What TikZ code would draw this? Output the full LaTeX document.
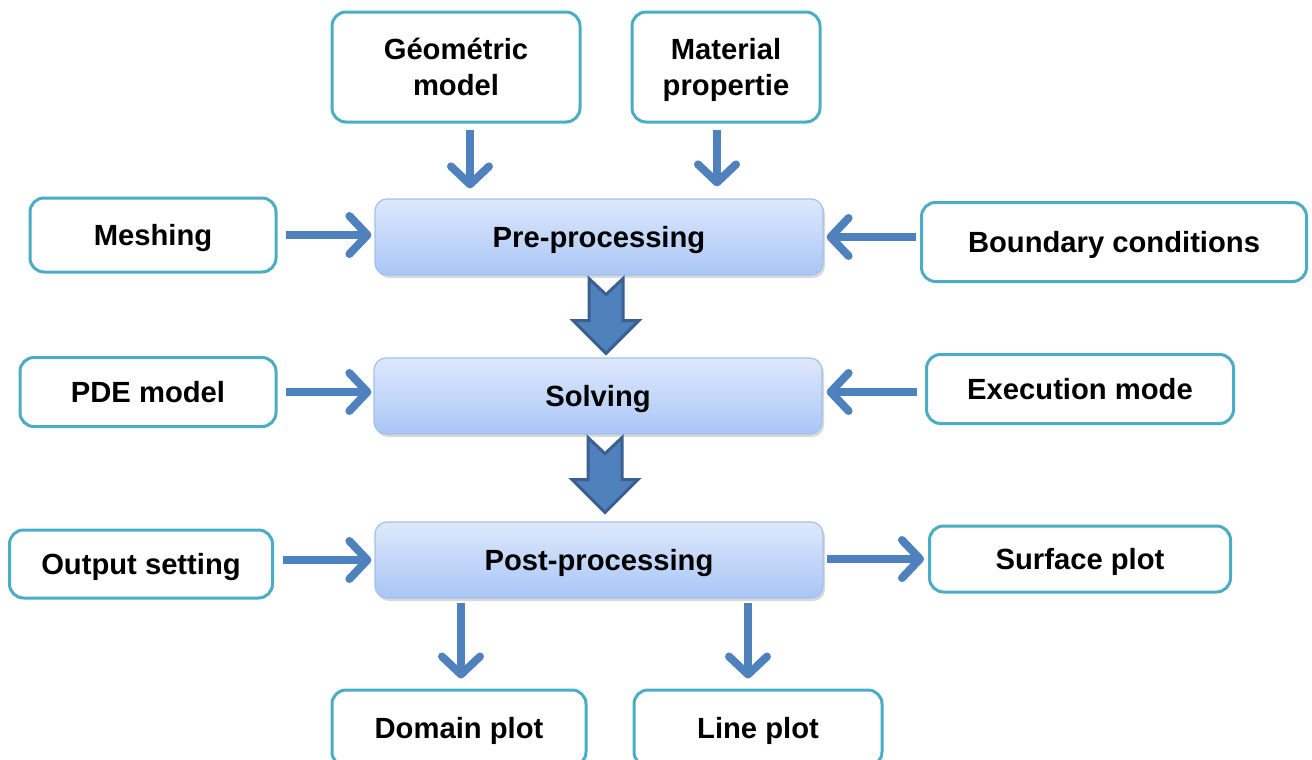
\documentclass[tikz,border=0pt]{standalone}
\usepackage{fontspec}
\setmainfont{Liberation Sans}
\usetikzlibrary{arrows.meta, shadows, calc, positioning}
\definecolor{flowblue}{HTML}{4F81BD}
\definecolor{flowdark}{HTML}{3B5F8F}
\definecolor{boxteal}{HTML}{4BACC6}
\definecolor{stagetop}{HTML}{DEE8FB}
\definecolor{stagebot}{HTML}{A9C6F6}
\definecolor{stageline}{HTML}{A3C0EC}
\tikzset{
    labelfont/.style={font=\fontsize{14.6}{18}\selectfont\bfseries, text height=12pt, text depth=1.6pt},
    twoline/.style={text height=30pt},
    sidebox/.style={draw=boxteal, line width=1.5pt, fill=white, rounded corners=7pt, align=center, labelfont},
    stagebox/.style={draw=stageline, line width=0.6pt, top color=stagetop, bottom color=stagebot, rounded corners=6pt,
        minimum width=224pt, minimum height=38pt, labelfont,
        drop shadow={shadow xshift=1pt, shadow yshift=-1.5pt, opacity=0.3}},
    thinarrow/.style={draw=flowblue, line width=4pt, -{Straight Barb[length=9pt, width=19pt, round]}},
    fatarrow/.style={draw=flowdark, line width=1.5pt, fill=flowblue, line join=miter}
}
\newcommand{\sidebox}[6][]{
    \node[sidebox, #1, minimum width=#4, minimum height=#5] (#2) at (#3) {#6};
}
\newcommand{\stage}[3]{
    \node[stagebox] (#1) at (#2) {#3};
}
\newcommand{\fatdown}[1]{
    \draw[fatarrow] ($(#1.south)+(7,3)$) ++(-17,0) -- ++(17,16) -- ++(17,-16) -- ++(0,42) -- ++(16,0)
    -- ++(-33,33) -- ++(-33,-33) -- ++(16,0) -- cycle;
}

\begin{document}
\begin{tikzpicture}[x=0.5pt, y=-0.5pt]
    \useasboundingbox (0,0) rectangle (1312,760);
    \stage{pre}{599, 237}{Pre-processing}
    \stage{solve}{598, 396}{Solving}
    \stage{post}{599, 560}{Post-processing}
    \sidebox[twoline]{geom}{456, 67}{124pt}{55pt}{Géométric\\model}
    \sidebox[twoline]{mat}{726, 67}{94pt}{55pt}{Material\\propertie}
    \sidebox{mesh}{153, 235}{123pt}{37pt}{Meshing}
    \sidebox{bound}{1114, 242}{192.5pt}{39.5pt}{Boundary conditions}
    \sidebox{pde}{148, 392}{128pt}{34.5pt}{PDE model}
    \sidebox{exec}{1080, 389}{153.5pt}{34.5pt}{Execution mode}
    \sidebox{output}{141, 564}{131.5pt}{34pt}{Output setting}
    \sidebox{surf}{1080, 559}{150.5pt}{33pt}{Surface plot}
    \sidebox{domain}{459, 728}{127pt}{38pt}{Domain plot}
    \sidebox{line}{758, 728}{124pt}{38pt}{Line plot}
    \fatdown{pre}
    \fatdown{solve}
    \draw[thinarrow] ($(geom.south)+(14,6)$) -- ($(geom.south |- pre.north)+(14,-10)$);
    \draw[thinarrow] ($(mat.south)+(-9,6)$) -- ($(mat.south |- pre.north)+(-9,-12)$);
    \draw[thinarrow] ($(mesh.east)+(8,0)$) -- ($(mesh.east -| pre.west)+(-3,0)$);
    \draw[thinarrow] ($(bound.west |- pre.east)+(-4,0)$) -- ($(pre.east)+(3,0)$);
    \draw[thinarrow] ($(pde.east)+(8,0)$) -- ($(pde.east -| solve.west)+(-2,0)$);
    \draw[thinarrow] ($(exec.west |- pde.east)+(-8,0)$) -- ($(solve.east |- pde.east)+(4,0)$);
    \draw[thinarrow] ($(output.east |- post.west)+(9,0)$) -- ($(post.west)+(-3,0)$);
    \draw[thinarrow] ($(post.east |- surf.west)+(3,0)$) -- ($(surf.west)+(-4,0)$);
    \draw[thinarrow] ($(post.south -| domain.north)+(2,4)$) -- ($(domain.north)+(2,-10)$);
    \draw[thinarrow] ($(post.south -| line.north)+(-10,4)$) -- ($(line.north)+(-10,-10)$);
\end{tikzpicture}
\end{document}
